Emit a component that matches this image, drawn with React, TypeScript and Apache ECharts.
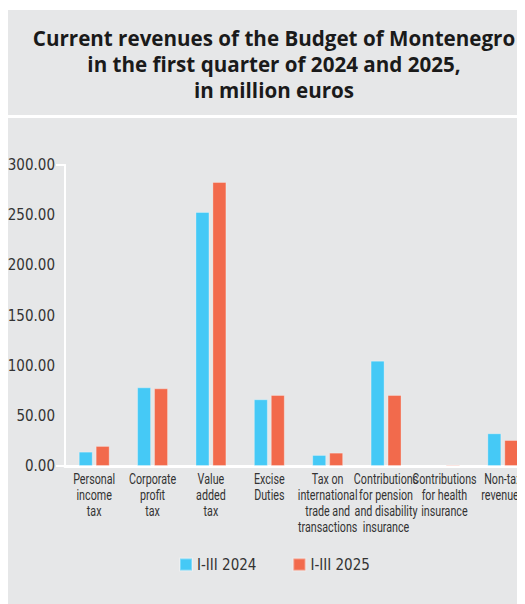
import React, { useEffect, useRef } from "react";
import * as echarts from "echarts";

const categories = [
  "Personal\nincome\ntax",
  "Corporate\nprofit\ntax",
  "Value\nadded\ntax",
  "Excise\nDuties",
  "Tax on\ninternational\ntrade and\ntransactions",
  "Contributions\nfor pension\nand disability\ninsurance",
  "Contributions\nfor health\ninsurance",
  "Non-tax\nrevenues",
];
const values2024 = [14.3, 78.4, 253.2, 66.5, 11.0, 105.0, 0.6, 32.6];
const values2025 = [20.0, 77.4, 283.1, 70.8, 13.3, 70.8, 1.3, 25.9];
const seriesNames = ["I-III 2024", "I-III 2025"];
const yTicks = { min: 0, max: 300, interval: 50 };

const GRAY = "#e6e7e8";
const BLUE = "#45c9f6";
const RED = "#f26a4c";
const LABEL_FONT = "'DejaVu Sans Condensed', sans-serif";

export default function App() {
  const ref = useRef<HTMLDivElement>(null);
  useEffect(() => {
    document.documentElement.style.overflow = "hidden";
    document.body.style.overflow = "hidden";
    const chart = echarts.init(ref.current!, null, { renderer: "svg" });
    const panels = [
      { type: "rect", z: -10, shape: { x: 0, y: 2, width: 600, height: 105 }, style: { fill: GRAY } },
      { type: "rect", z: -10, shape: { x: 0, y: 110, width: 600, height: 500 }, style: { fill: GRAY } },
    ];
    chart.setOption({
      animation: false,
      backgroundColor: "#ffffff",
      graphic: panels,
      title: {
        text: "Current revenues of the Budget of Montenegro\nin the first quarter of 2024 and 2025,\nin million euros",
        left: "center",
        top: 17,
        padding: 0,
        textStyle: {
          fontFamily: "'Open Sans', sans-serif",
          fontWeight: "bold",
          fontSize: 20.6,
          lineHeight: 26,
          color: "#1a1a1a",
          align: "center",
        },
      },
      legend: {
        data: seriesNames,
        left: 171,
        top: 549,
        padding: 0,
        itemWidth: 12,
        itemHeight: 12,
        itemGap: 36,
        icon: "rect",
        textStyle: { fontFamily: LABEL_FONT, fontSize: 15, color: "#333" },
      },
      grid: { left: 57, right: 8, top: 157, bottom: 142, containLabel: false, outerBoundsMode: "none" },
      xAxis: [
        {
          type: "category",
          data: categories,
          axisLine: { show: true, lineStyle: { color: "#ffffff", width: 3 } },
          axisTick: { show: false },
          axisLabel: { show: false },
        },
        {
          type: "category",
          data: categories,
          position: "top",
          axisLine: { show: true, lineStyle: { color: "#ffffff", width: 2 } },
          axisTick: { show: false },
          axisLabel: { show: false },
        },
      ],
      yAxis: [
        {
          type: "value",
          min: yTicks.min,
          max: yTicks.max,
          interval: yTicks.interval,
          axisLine: { show: true, lineStyle: { color: "#ffffff", width: 2 } },
          axisTick: { show: false },
          splitLine: { show: false },
          axisLabel: {
            margin: 10,
            fontFamily: LABEL_FONT,
            fontSize: 15,
            color: "#333",
            formatter: (v: number) => v.toFixed(2),
          },
        },
        {
          type: "value",
          position: "left",
          min: yTicks.min,
          max: yTicks.max,
          interval: yTicks.max,
          axisLine: { show: true, lineStyle: { color: "#ffffff", width: 2 } },
          axisTick: { show: true, length: 9, lineStyle: { color: "#ffffff", width: 2 } },
          splitLine: { show: false },
          axisLabel: { show: false },
        },
      ],
      series: [
        {
          name: seriesNames[0],
          type: "bar",
          data: values2024,
          barWidth: 14,
          barGap: "21%",
          itemStyle: { color: BLUE, borderColor: "rgba(255,255,255,0.3)", borderWidth: 1 },
        },
        {
          name: seriesNames[1],
          type: "bar",
          data: values2025,
          barWidth: 14,
          itemStyle: { color: RED, borderColor: "rgba(255,255,255,0.3)", borderWidth: 1 },
        },
      ],
    });

    // Category labels, placed through the axis scale, drawn condensed
    const labels = categories.map((cat, i) => {
      const p = chart.convertToPixel({ gridIndex: 0 }, [i, 0]) as number[];
      return {
        type: "text",
        x: p[0],
        y: p[1] + 5,
        scaleX: 0.74,
        style: {
          text: cat,
          fontFamily: "Roboto, sans-serif",
          fontSize: 14.5,
          lineHeight: 16,
          fill: "#333",
          align: "center",
          verticalAlign: "top",
        },
      };
    });
    chart.setOption({ graphic: [...panels, ...labels] });
    return () => chart.dispose();
  }, []);
  return (
    <div style={{ width: 517, height: 596, overflow: "hidden", position: "relative" }}>
      <div ref={ref} style={{ width: 532, height: 600, position: "absolute", left: 0, top: 0 }} />
    </div>
  );
}
